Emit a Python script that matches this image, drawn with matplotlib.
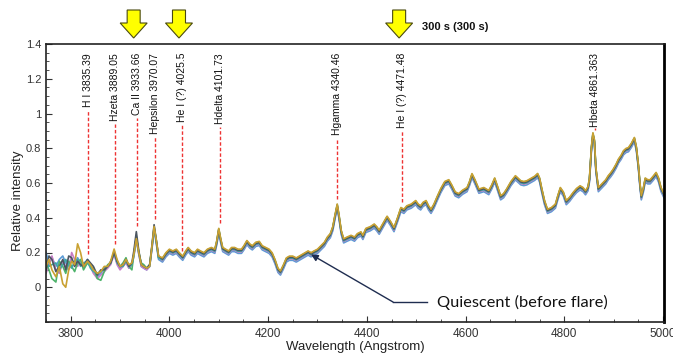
import numpy as np
import matplotlib
matplotlib.use("Agg")
import matplotlib.pyplot as plt
from matplotlib.patches import Polygon
from matplotlib.lines import Line2D
from matplotlib.ticker import MultipleLocator, FixedLocator
from matplotlib.transforms import blended_transform_factory

plt.rcParams['font.family'] = ['Liberation Sans', 'DejaVu Sans']

# ---------------- data ----------------
# noisy blue end, per exposure
wl_blue = [3750, 3756, 3762, 3770, 3777, 3784, 3790, 3796, 3802, 3808, 3814, 3820, 3826,
           3834, 3840, 3846, 3854, 3861, 3868, 3875, 3881, 3888, 3894, 3900, 3906, 3912,
           3918, 3924, 3928, 3933, 3938, 3943, 3948, 3954, 3960, 3965, 3969, 3973, 3978]
blue_gold = [0.12, 0.16, 0.10, 0.06, 0.12, 0.02, 0.00, 0.10, 0.15, 0.13, 0.25, 0.20, 0.12,
             0.15, 0.13, 0.10, 0.08, 0.09, 0.12, 0.12, 0.15, 0.22, 0.16, 0.12, 0.13, 0.16,
             0.13, 0.14, 0.19, 0.28, 0.20, 0.13, 0.12, 0.11, 0.12, 0.25, 0.35, 0.28, 0.18]
blue_blue = [0.20, 0.14, 0.17, 0.12, 0.16, 0.18, 0.14, 0.12, 0.16, 0.13, 0.17, 0.14, 0.13,
             0.16, 0.13, 0.10, 0.06, 0.08, 0.11, 0.12, 0.15, 0.19, 0.14, 0.11, 0.12, 0.15,
             0.11, 0.13, 0.18, 0.27, 0.19, 0.12, 0.11, 0.10, 0.12, 0.23, 0.33, 0.26, 0.16]
blue_green = [0.14, 0.10, 0.05, 0.03, 0.15, 0.12, 0.08, 0.15, 0.12, 0.09, 0.14, 0.16, 0.10,
              0.14, 0.12, 0.11, 0.05, 0.04, 0.09, 0.13, 0.14, 0.21, 0.15, 0.12, 0.14, 0.17,
              0.12, 0.10, 0.19, 0.29, 0.20, 0.14, 0.13, 0.11, 0.13, 0.24, 0.34, 0.28, 0.17]
blue_gray = [0.10, 0.18, 0.16, 0.09, 0.12, 0.16, 0.10, 0.18, 0.17, 0.12, 0.15, 0.13, 0.12,
             0.16, 0.14, 0.12, 0.07, 0.10, 0.10, 0.12, 0.14, 0.20, 0.15, 0.12, 0.13, 0.16,
             0.12, 0.14, 0.21, 0.32, 0.21, 0.13, 0.12, 0.11, 0.13, 0.25, 0.36, 0.28, 0.18]
blue_magenta = [0.08, 0.13, 0.18, 0.10, 0.08, 0.15, 0.12, 0.10, 0.20, 0.16, 0.12, 0.15, 0.11,
                0.15, 0.12, 0.08, 0.05, 0.07, 0.09, 0.11, 0.13, 0.19, 0.13, 0.10, 0.12, 0.14,
                0.11, 0.13, 0.18, 0.28, 0.19, 0.12, 0.11, 0.10, 0.12, 0.23, 0.34, 0.27, 0.17]
blue_teal = [0.15, 0.12, 0.13, 0.14, 0.10, 0.13, 0.16, 0.13, 0.11, 0.15, 0.16, 0.12, 0.14,
             0.15, 0.11, 0.09, 0.08, 0.09, 0.11, 0.12, 0.14, 0.20, 0.14, 0.12, 0.12, 0.15,
             0.12, 0.13, 0.19, 0.29, 0.20, 0.13, 0.12, 0.11, 0.12, 0.24, 0.35, 0.27, 0.17]

# shared spectrum redward of 3980 A
wl_tail = [3986, 3993, 4000, 4007, 4014, 4020, 4027, 4033, 4038, 4044, 4051, 4057, 4063, 4070,
           4077, 4085, 4092, 4096, 4100, 4104, 4108, 4114, 4120, 4126, 4132, 4139, 4146, 4151,
           4157, 4163, 4168, 4175, 4182, 4188, 4195, 4202, 4208, 4214, 4220, 4225, 4231, 4237,
           4243, 4250, 4257, 4263, 4269, 4275, 4281, 4287, 4293, 4300, 4307, 4314, 4320, 4326,
           4331, 4335, 4340, 4344, 4348, 4353, 4360, 4368, 4375, 4381, 4388, 4392, 4398, 4407,
           4415, 4420, 4425, 4433, 4441, 4448, 4455, 4462, 4469, 4475, 4481, 4490, 4499, 4504,
           4509, 4514, 4520, 4525, 4530, 4536, 4542, 4550, 4558, 4566, 4572, 4579, 4586, 4594,
           4603, 4608, 4613, 4619, 4627, 4637, 4647, 4653, 4659, 4665, 4671, 4677, 4683, 4692,
           4701, 4706, 4712, 4718, 4724, 4734, 4740, 4746, 4750, 4754, 4760, 4766, 4774, 4782,
           4787, 4792, 4798, 4804, 4811, 4818, 4825, 4832, 4838, 4843, 4848, 4851, 4855, 4858,
           4861, 4864, 4869, 4874, 4879, 4884, 4889, 4894, 4899, 4905, 4910, 4915, 4920, 4925,
           4930, 4936, 4942, 4946, 4950, 4953, 4956, 4960, 4964, 4969, 4974, 4980, 4986, 4991,
           4996, 5002]
flux_tail = [0.16, 0.19, 0.21, 0.20, 0.21, 0.19, 0.17, 0.20, 0.22, 0.20, 0.19, 0.21, 0.20, 0.19,
             0.21, 0.22, 0.21, 0.26, 0.33, 0.27, 0.22, 0.21, 0.20, 0.22, 0.22, 0.21, 0.21, 0.23,
             0.26, 0.24, 0.23, 0.25, 0.255, 0.23, 0.22, 0.21, 0.19, 0.15, 0.10, 0.085, 0.12, 0.16,
             0.17, 0.17, 0.16, 0.17, 0.18, 0.19, 0.20, 0.19, 0.20, 0.21, 0.23, 0.25, 0.28, 0.30,
             0.34, 0.40, 0.47, 0.40, 0.32, 0.27, 0.28, 0.29, 0.28, 0.30, 0.31, 0.29, 0.33, 0.34,
             0.355, 0.34, 0.32, 0.36, 0.40, 0.37, 0.335, 0.39, 0.45, 0.44, 0.46, 0.47, 0.49, 0.47,
             0.46, 0.48, 0.49, 0.46, 0.44, 0.47, 0.51, 0.56, 0.60, 0.61, 0.58, 0.54, 0.53, 0.55,
             0.565, 0.60, 0.645, 0.61, 0.556, 0.565, 0.548, 0.58, 0.62, 0.57, 0.518, 0.53, 0.556, 0.60,
             0.633, 0.62, 0.604, 0.60, 0.604, 0.62, 0.63, 0.646, 0.62, 0.565, 0.49, 0.44, 0.45, 0.47,
             0.52, 0.565, 0.54, 0.49, 0.51, 0.537, 0.56, 0.575, 0.565, 0.547, 0.57, 0.62, 0.80, 0.88,
             0.84, 0.68, 0.565, 0.58, 0.595, 0.61, 0.633, 0.65, 0.67, 0.70, 0.73, 0.75, 0.777, 0.79,
             0.795, 0.82, 0.853, 0.80, 0.70, 0.60, 0.518, 0.56, 0.62, 0.61, 0.61, 0.63, 0.652, 0.62,
             0.565, 0.53]
# small level offsets of each exposure in the red part
tail_offsets = [-0.015, -0.007, 0.006, -0.003, 0.002, 0.009]

series_names = ['blue', 'magenta', 'green', 'teal', 'gray', 'gold']
series_blue = [blue_blue, blue_magenta, blue_green, blue_teal, blue_gray, blue_gold]
series_colors = ['#5b9bd5', '#c77cc7', '#4db36a', '#3fa7a7', '#4a5560', '#c9a132']

# identified lines
line_wl = [3835.39, 3889.05, 3933.66, 3970.07, 4025.5, 4101.73, 4340.46, 4471.48, 4861.363]
line_labels = ['H I 3835.39', 'Hzeta 3889.05', 'Ca II 3933.66', 'Hepsilon 3970.07',
               'He I (?) 4025.5', 'Hdelta 4101.73', 'Hgamma 4340.46', 'He I (?) 4471.48',
               'Hbeta 4861.363']
arrow_wl = [3933.66, 4025.5, 4471.48]

x_ticks = [3800, 4000, 4200, 4400, 4600, 4800, 5000]
y_ticks = [0, 0.2, 0.4, 0.6, 0.8, 1.0, 1.2, 1.4]
y_ticklabels = ['0', '0.2', '0.4', '0.6', '0.8', '1', '1.2', '1.4']

# ---------------- figure ----------------
W, H = 673, 356
fig = plt.figure(figsize=(W / 100, H / 100), dpi=100)
ax = fig.add_axes([46 / W, 34 / H, 618 / W, 278 / H])

wl = np.array(wl_blue + wl_tail, dtype=float)
all_series = []
for blue_part, off, col in zip(series_blue, tail_offsets, series_colors):
    y = np.concatenate([np.array(blue_part), np.array(flux_tail) + off])
    all_series.append(y)
    ax.plot(wl, y, color=col, lw=1.2, solid_joinstyle='round')
all_series = np.array(all_series)

ax.set_xlim(3750, 5002)
ax.set_ylim(-0.2, 1.4)
ax.xaxis.set_major_locator(FixedLocator(x_ticks))
ax.xaxis.set_minor_locator(MultipleLocator(50))
ax.yaxis.set_major_locator(FixedLocator(y_ticks))
ax.set_yticklabels(y_ticklabels)
ax.yaxis.set_minor_locator(MultipleLocator(0.05))
ax.tick_params(which='both', direction='in', colors='#333333', labelsize=8)
ax.tick_params(which='major', length=4, width=0.8)
ax.tick_params(which='minor', length=2, width=0.6)
ax.tick_params(axis='x', labelsize=8.5, pad=4)
for s in ['left', 'bottom', 'top']:
    ax.spines[s].set_color('#222222')
    ax.spines[s].set_linewidth(1.2)
ax.spines['right'].set_color('black')
ax.spines['right'].set_linewidth(2.0)

ax.set_xlabel('Wavelength (Angstrom)', fontsize=9.5, color='#222222', labelpad=1)
fig.text(18 / W, 1 - 201 / H, 'Relative intensity', rotation=90, ha='center', va='center',
         fontsize=9.5, color='#222222')

# line labels and markers
trans = blended_transform_factory(ax.transData, ax.transAxes)
texts = []
for lw_, lab in zip(line_wl, line_labels):
    t = ax.text(lw_, 0.968, lab, rotation=90, ha='center', va='top', fontsize=7.5,
                color='#111111', transform=trans)
    texts.append(t)

fig.canvas.draw()
renderer = fig.canvas.get_renderer()
inv = ax.transData.inverted()
for lw_, t in zip(line_wl, texts):
    bb = t.get_window_extent(renderer)
    top_data = inv.transform((0, bb.y0 - 3))[1]
    near = np.abs(wl - lw_) <= 4
    if near.any():
        ymax = all_series[:, near].max()
    else:
        ymax = np.interp(lw_, wl, all_series.max(axis=0))
    bottom = ymax + 0.03
    ax.plot([lw_, lw_], [bottom, top_data], color='#ee3333', lw=1.0,
            dashes=(2.5, 1.5))

# yellow arrows above the plot (display coordinates)
for aw in arrow_wl:
    cx = ax.transData.transform((aw, 0))[0] - 3
    top = H - 10
    shaft_hw, head_hw = 6.5, 13.5
    shaft_len, total = 13, 28
    pts = [(cx - shaft_hw, top), (cx + shaft_hw, top), (cx + shaft_hw, top - shaft_len),
           (cx + head_hw, top - shaft_len), (cx, top - total), (cx - head_hw, top - shaft_len),
           (cx - shaft_hw, top - shaft_len)]
    poly = Polygon(pts, closed=True, facecolor='#ffff00', edgecolor='#4a4a10', lw=0.8,
                   transform=None)
    fig.add_artist(poly)

fig.text(455 / W, 1 - 27 / H, '300 s (300 s)', ha='center', va='center', fontsize=8,
         fontweight='bold', color='#111111')

# quiescent annotation
tip_wl = 4287
tip_y = np.interp(tip_wl, wl, all_series.mean(axis=0))
elbow = (393 / W, 1 - 302 / H)
ax.annotate('', xy=(tip_wl, tip_y), xycoords='data', xytext=elbow, textcoords='figure fraction',
            arrowprops=dict(arrowstyle='-|>', color='#1f2d50', lw=1.0, mutation_scale=10,
                            shrinkA=0, shrinkB=0))
fig.add_artist(Line2D([393 / W, 427 / W], [1 - 302 / H, 1 - 302 / H], color='#1f2d50', lw=1.0,
                      transform=fig.transFigure))
fig.text(437 / W, 1 - 302 / H, 'Quiescent (before flare)', ha='left', va='center',
         fontsize=11.8, family=['Lato', 'DejaVu Sans'], color='#111111')

fig.savefig('out.png', dpi=100)
